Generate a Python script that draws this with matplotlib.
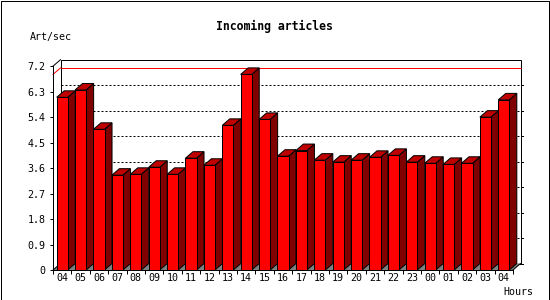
# -*- coding: utf-8 -*-
import numpy as np
import matplotlib
matplotlib.use("Agg")
import matplotlib.pyplot as plt
from matplotlib.patches import Polygon, Rectangle
from matplotlib.lines import Line2D
from matplotlib.transforms import ScaledTranslation, IdentityTransform

# datos (articulos por segundo, por hora)
hours = ["04", "05", "06", "07", "08", "09", "10", "11", "12", "13", "14", "15",
         "16", "17", "18", "19", "20", "21", "22", "23", "00", "01", "02", "03", "04"]
rates = [6.10, 6.36, 4.97, 3.35, 3.38, 3.63, 3.38, 3.95, 3.70, 5.11, 6.91, 5.32,
         4.02, 4.22, 3.88, 3.81, 3.88, 3.98, 4.05, 3.81, 3.77, 3.73, 3.77, 5.40, 6.01]
y_ticks = [0, 0.9, 1.8, 2.7, 3.6, 4.5, 5.4, 6.3, 7.2]
y_labels = ["0", "0.9", "1.8", "2.7", "3.6", "4.5", "5.4", "6.3", "7.2"]
y_max = 7.2

W, H, DPI = 550, 300, 100
DX, DY = 7.5, 6.5        # profundidad 3D en pixeles
LW = 72.0 / DPI          # 1 pixel
MONO = "DejaVu Sans Mono"

fig = plt.figure(figsize=(W / DPI, H / DPI), dpi=DPI)
ax = fig.add_axes([53 / W, (H - 270) / H, (513 - 53) / W, 203.8 / H])
ax.set_xlim(0, len(hours))
ax.set_ylim(0, y_max)
ax.patch.set_visible(False)

back = ax.transData + ScaledTranslation(DX / DPI, DY / DPI, fig.dpi_scale_trans)
ident = IdentityTransform()


def proj(x, y, z=0):
    """Coordenadas de pantalla; z=1 es el plano del fondo."""
    px, py = ax.transData.transform((x, y))
    return (px + DX * z, py + DY * z)


def poly(pts, fc, zorder):
    p = Polygon(pts, closed=True, facecolor=fc, edgecolor="black", lw=LW,
                transform=ident, clip_on=False, zorder=zorder)
    ax.add_patch(p)


# plano del fondo
ax.add_patch(Rectangle((0, 0), len(hours), y_max, transform=back, facecolor="white",
                       edgecolor="black", lw=LW, clip_on=False, zorder=0.1))
# lineas de la rejilla (punteadas)
ax.hlines(y_ticks[1:-1], 0, len(hours), transform=back, colors="black", lw=LW,
          linestyles=(0, (2, 2)), clip_on=False, zorder=0.2)

# piso gris
floor = [proj(0, 0), proj(len(hours), 0), proj(len(hours), 0, 1), proj(0, 0, 1)]
ax.add_patch(Polygon(floor, closed=True, facecolor="#808080", edgecolor="none",
                     transform=ident, clip_on=False, zorder=0.3))

# linea roja del maximo
vmax = max(rates)
ax.hlines([vmax], 0, len(hours), transform=back, colors="red", lw=LW,
          clip_on=False, zorder=0.4)
p0, p1 = proj(0, vmax), proj(0, vmax, 1)
ax.add_line(Line2D([p0[0], p1[0]], [p0[1], p1[1]], color="red", lw=LW,
                   transform=ident, clip_on=False, zorder=0.4))

# bordes de las paredes laterales
for (xa, ya) in [(0, y_max), (0, 0), (len(hours), 0)]:
    a, b = proj(xa, ya), proj(xa, ya, 1)
    ax.add_line(Line2D([a[0], b[0]], [a[1], b[1]], color="black", lw=LW,
                       transform=ident, clip_on=False, zorder=0.5))

# marcas a la derecha del fondo
for t in y_ticks[:-1]:
    a = proj(len(hours), t, 1)
    ax.add_line(Line2D([a[0], a[0] + 2.5], [a[1], a[1]], color="black", lw=LW,
                       transform=ident, clip_on=False, zorder=0.5))

# barras 3D
for i, v in enumerate(rates):
    x0, x1 = i + 0.2, i + 0.8
    poly([proj(x1, 0), proj(x1, 0, 1), proj(x1, v, 1), proj(x1, v)], "#800000", 1)
    poly([proj(x0, v), proj(x1, v), proj(x1, v, 1), proj(x0, v, 1)], "#c00000", 1)
    poly([proj(x0, 0), proj(x1, 0), proj(x1, v), proj(x0, v)], "#ff0000", 1.1)

# ejes
for s in ["top", "right"]:
    ax.spines[s].set_visible(False)
for s in ["left", "bottom"]:
    ax.spines[s].set_linewidth(LW)

ax.set_yticks(y_ticks)
ax.set_yticklabels(y_labels, fontfamily=MONO, fontsize=7.2)
ax.tick_params(axis="y", length=2.2, width=LW, pad=3.2)

ax.set_xticks(np.arange(len(hours) + 1))
ax.set_xticklabels([])
ax.set_xticks(np.arange(len(hours)) + 0.5, minor=True)
ax.set_xticklabels(hours, minor=True, fontfamily=MONO, fontsize=7.2)
ax.tick_params(axis="x", which="major", length=3, width=LW)
ax.tick_params(axis="x", which="minor", length=0, pad=2.5)

# textos
fig.text(274 / W, 1 - 26.7 / H, "Incoming articles", ha="center", va="center",
         fontfamily=MONO, fontsize=8.3, fontweight="bold")
fig.text(30 / W, 1 - 36.7 / H, "Art/sec", ha="left", va="center",
         fontfamily=MONO, fontsize=7.2)
fig.text(533 / W, 1 - 292 / H, "Hours", ha="right", va="center",
         fontfamily=MONO, fontsize=7.2)

# marco exterior
fig.patches.append(Rectangle((0.5, 0.5), 548, 299, transform=ident, fill=False,
                             edgecolor="black", lw=LW))

fig.savefig("out.png", dpi=DPI)
